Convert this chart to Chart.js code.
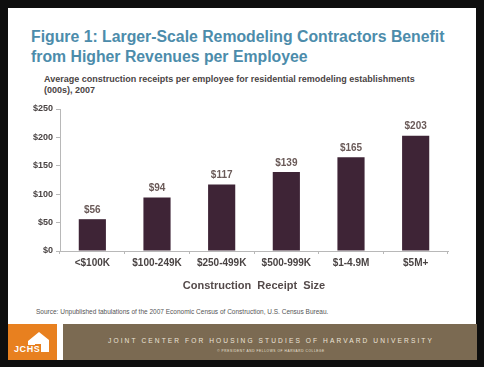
<!DOCTYPE html>
<html lang="en">
<head>
  <meta charset="UTF-8">
  <title>Figure 1: Larger-Scale Remodeling Contractors</title>
  <script src="https://cdn.jsdelivr.net/npm/chart.js"></script>
  <style>
    * { box-sizing: border-box; margin: 0; padding: 0; }
    body {
      width: 484px; height: 367px; overflow: hidden;
      background: #0e0e0e;
      font-family: 'Liberation Sans', Arial, sans-serif;
      position: relative;
    }
    .slide {
      position: absolute; left: 8px; top: 8px; width: 468px; height: 352px;
      background: #fff;
    }
    .title {
      position: absolute; left: 23px; top: 19px; width: 440px;
      font-size: 15.8px; font-weight: bold; line-height: 20px;
      color: #4c8cab;
    }
    .subtitle {
      position: absolute; left: 36px; top: 66px; width: 430px;
      font-size: 9px; font-weight: bold; line-height: 10.5px;
      color: #4a4444; white-space: nowrap;
    }
    .chart-box {
      position: absolute; left: 0; top: 87px; width: 467px; height: 200px;
    }
    .source {
      position: absolute; left: 28px; top: 300px;
      font-size: 6.5px; color: #555; white-space: nowrap;
    }
    .logo {
      position: absolute; left: 0; top: 316px; width: 49px; height: 36px;
      background: #e8801f;
    }
    .logo span {
      position: absolute; left: 6px; top: 20px;
      font-size: 9px; font-weight: bold; color: #fff; letter-spacing: 0.6px;
    }
    .band {
      position: absolute; left: 55px; top: 316px; width: 414px; height: 36px;
      background: #7b6a52; text-align: center; color: #ece4d8;
    }
    .band .name {
      margin-top: 13px; margin-left: 2px;
      font-size: 6.6px; letter-spacing: 2.1px; white-space: nowrap;
    }
    .band .copy {
      margin-top: 5px; margin-left: 2px;
      font-size: 3.2px; letter-spacing: 0.6px; white-space: nowrap;
    }
  </style>
</head>
<body>
  <div class="slide">
    <div class="title">Figure 1: Larger-Scale Remodeling Contractors Benefit<br>from Higher Revenues per Employee</div>
    <div class="subtitle">Average construction receipts per employee for residential remodeling establishments<br>(000s), 2007</div>
    <div class="chart-box"><canvas id="chart"></canvas></div>
    <div class="source">Source: Unpublished tabulations of the 2007 Economic Census of Construction, U.S. Census Bureau.</div>
    <div class="logo">
      <svg width="49" height="36" style="position:absolute;left:0;top:0">
        <polygon points="20,17 31,8 41,16 41,28 33,28 33,20 27,20 27,21 20,21" fill="#fff"/>
      </svg>
      <span>JCHS</span>
    </div>
    <div class="band">
      <div class="name">JOINT CENTER FOR HOUSING STUDIES OF HARVARD UNIVERSITY</div>
      <div class="copy">© PRESIDENT AND FELLOWS OF HARVARD COLLEGE</div>
    </div>
  </div>

  <script>
    // Chart values
    const categories = ['<$100K', '$100-249K', '$250-499K', '$500-999K', '$1-4.9M', '$5M+'];
    const receipts = [56, 94, 117, 139, 165, 203];
    const yTicks = [0, 50, 100, 150, 200, 250];

    const fontFamily = "'Liberation Sans', Arial, sans-serif";

    // Dollar labels above each bar
    const valueLabels = {
      id: 'valueLabels',
      afterDatasetsDraw(chart) {
        const ctx = chart.ctx;
        const meta = chart.getDatasetMeta(0);
        ctx.save();
        ctx.font = 'bold 10px ' + fontFamily;
        ctx.fillStyle = '#6a5a58';
        ctx.textAlign = 'center';
        ctx.textBaseline = 'bottom';
        meta.data.forEach((bar, i) => {
          ctx.fillText('$' + receipts[i], bar.x, bar.y - 4);
        });
        ctx.restore();
      }
    };

    new Chart(document.getElementById('chart'), {
      type: 'bar',
      data: {
        labels: categories,
        datasets: [{
          data: receipts,
          backgroundColor: '#3e2436',
          categoryPercentage: 1,
          barPercentage: 0.42
        }]
      },
      options: {
        responsive: true,
        maintainAspectRatio: false,
        animation: false,
        layout: { padding: { top: 14, right: 27, left: 0, bottom: 0 } },
        plugins: {
          legend: { display: false },
          tooltip: { enabled: false }
        },
        scales: {
          y: {
            min: 0, max: 250,
            afterBuildTicks(scale) { scale.ticks = yTicks.map(v => ({ value: v })); },
            afterFit(scale) { scale.width = 52; },
            border: { color: '#b8b8b8', width: 1 },
            grid: { drawOnChartArea: false, drawTicks: true, tickLength: 4, color: '#b8b8b8' },
            ticks: {
              padding: 3,
              color: '#4a4444',
              font: { family: fontFamily, size: 9, weight: 'bold' },
              callback: v => '$' + v
            }
          },
          x: {
            afterFit(scale) { scale.height = 44; },
            border: { color: '#b8b8b8', width: 1 },
            grid: { offset: true, drawOnChartArea: false, drawTicks: true, tickLength: 3, color: '#b8b8b8' },
            ticks: {
              padding: 3,
              maxRotation: 0,
              color: '#4a4444',
              font: { family: fontFamily, size: 10, weight: 'bold' }
            },
            title: {
              display: true,
              text: 'Construction  Receipt  Size',
              color: '#544a4a',
              padding: { top: 4, bottom: 2 },
              font: { family: fontFamily, size: 11, weight: 'bold' }
            }
          }
        }
      },
      plugins: [valueLabels]
    });
  </script>
</body>
</html>
